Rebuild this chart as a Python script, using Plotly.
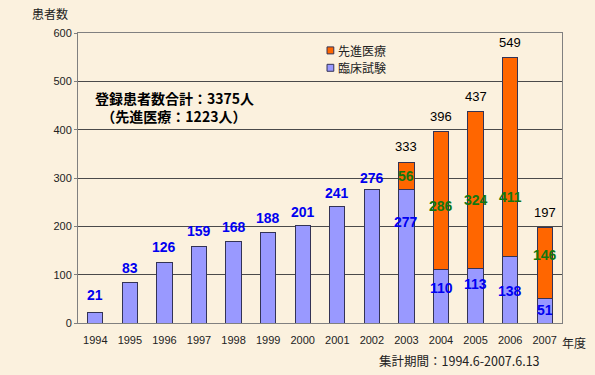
import plotly.graph_objects as go

years = ["1994", "1995", "1996", "1997", "1998", "1999", "2000",
         "2001", "2002", "2003", "2004", "2005", "2006", "2007"]
clinical = [21, 83, 126, 159, 168, 188, 201, 241, 276, 277, 110, 113, 138, 51]
advanced = [0, 0, 0, 0, 0, 0, 0, 0, 0, 56, 286, 324, 411, 146]
totals = [c + a for c, a in zip(clinical, advanced)]
series_names = ["先進医療", "臨床試験"]
series_colors = ["#FF6600", "#9999FF"]

JP = "Noto Sans CJK JP, sans-serif"
NUM = "Liberation Sans Narrow, Arial Narrow, Liberation Sans, sans-serif"
SANS = "Liberation Sans, Arial, sans-serif"
EDGE = "#333355"

fig = go.Figure()
fig.add_bar(x=years, y=clinical, name="臨床試験", showlegend=False,
            marker=dict(color="#9999FF", line=dict(color=EDGE, width=1)))
fig.add_bar(x=years, y=advanced, name="先進医療", showlegend=False,
            marker=dict(color="#FF6600", line=dict(color=EDGE, width=1)))

ann = []
# per-label pixel nudges (style only)
blue_in_shift = {"2003": 34, "2004": 8, "2005": 12, "2006": -1, "2007": 1}
green_shift = {"2003": 0, "2004": -5, "2005": -10, "2006": -40, "2007": 8}
above_shift = [4, 1, 1, 1, 1, 0, 0, 0, -2]

for i, yr in enumerate(years):
    c, a, t = clinical[i], advanced[i], totals[i]
    if a == 0:
        ann.append(dict(x=i, y=c, text=str(c), showarrow=False, yanchor="bottom",
                        yshift=4 + above_shift[i],
                        font=dict(family=NUM, size=14, color="#0000F0", weight="bold")))
    else:
        ann.append(dict(x=i, y=c / 2, text=str(c), showarrow=False, yanchor="middle",
                        yshift=blue_in_shift[yr],
                        font=dict(family=NUM, size=14, color="#0000F0", weight="bold")))
        ann.append(dict(x=i, y=c + a / 2, text=str(a), showarrow=False, yanchor="middle",
                        yshift=green_shift[yr],
                        font=dict(family=NUM, size=14, color="#117711", weight="bold")))
        ann.append(dict(x=i, y=t, text=str(t), showarrow=False, yanchor="bottom",
                        yshift=6,
                        font=dict(family=SANS, size=13, color="#000000")))

# manual legend (swatch + label)
shapes = []
for k, (nm, col) in enumerate(zip(series_names, series_colors)):
    yc = 0.940 - k * 0.060
    shapes.append(dict(type="rect", xref="paper", yref="paper",
                       x0=0.5145, x1=0.5285, y0=yc - 0.012, y1=yc + 0.012,
                       fillcolor=col, line=dict(color=EDGE, width=1)))
    ann.append(dict(xref="paper", yref="paper", x=0.533, y=yc, xanchor="left",
                    yanchor="middle", text=nm, showarrow=False,
                    font=dict(family=JP, size=12, color="#222")))

ann += [
    dict(xref="paper", yref="paper", x=-0.016, y=1.03, xanchor="right", yanchor="bottom",
         text="患者数", showarrow=False, font=dict(family=JP, size=12, color="#222")),
    dict(xref="paper", yref="paper", x=0.995, y=0, xanchor="left", yanchor="top", yshift=-9,
         text="年度", showarrow=False, font=dict(family=JP, size=12, color="#222")),
    dict(xref="paper", yref="paper", x=0.958, y=0, xanchor="right", yanchor="top", yshift=-26,
         text="集計期間：1994.6-2007.6.13", showarrow=False,
         font=dict(family=JP, size=12.5, color="#222")),
    dict(xref="paper", yref="paper", x=0.032, y=0.745, xanchor="left", yanchor="middle",
         align="left",
         text="登録患者数合計：3375人<br>&nbsp;&nbsp;（先進医療：1223人）", showarrow=False,
         font=dict(family=JP, size=14, color="#000", weight="bold")),
]

fig.update_layout(
    width=595, height=375,
    barmode="stack", bargap=0.56,
    paper_bgcolor="#FBF1DE", plot_bgcolor="#FBF1DE",
    margin=dict(l=78, r=33, t=33, b=52),
    showlegend=False,
    annotations=ann,
    shapes=shapes,
    xaxis=dict(type="category", range=[-0.5, 13.5], showgrid=False, showline=True,
               linecolor="#808080", mirror=True, ticks="", ticklabelstandoff=7,
               tickfont=dict(family=SANS, size=11, color="#222")),
    yaxis=dict(range=[0, 600], dtick=100, showgrid=True, gridcolor="#4A4A4A", gridwidth=1,
               showline=True, linecolor="#808080", mirror=True, ticks="outside", ticklen=3,
               tickcolor="#808080", zeroline=False,
               tickfont=dict(family=SANS, size=11, color="#222")),
)
fig.write_html("out.html", config={"displayModeBar": False},
               post_script="document.body.style.margin='0';document.body.style.background='#FBF1DE';")
